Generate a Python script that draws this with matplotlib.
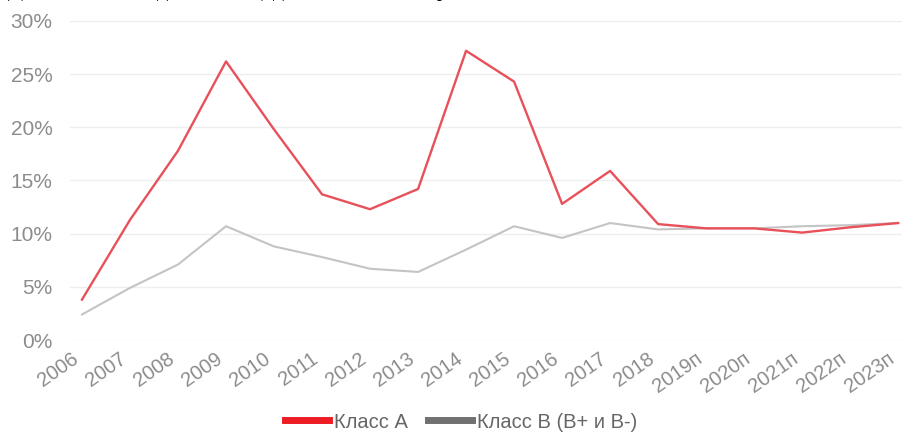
import matplotlib
matplotlib.use("Agg")
import matplotlib.pyplot as plt
import matplotlib.transforms as mtransforms
from matplotlib.ticker import FuncFormatter, MultipleLocator
from matplotlib.lines import Line2D

plt.rcParams['font.family'] = ['Liberation Sans', 'DejaVu Sans']

years = ["2006", "2007", "2008", "2009", "2010", "2011", "2012", "2013", "2014",
         "2015", "2016", "2017", "2018", "2019п", "2020п", "2021п", "2022п", "2023п"]
class_a = [3.8, 11.3, 17.8, 26.2, 19.8, 13.7, 12.3, 14.2, 27.2,
           24.3, 12.8, 15.9, 10.9, 10.5, 10.5, 10.1, 10.6, 11.0]
class_b = [2.4, 4.9, 7.1, 10.7, 8.8, 7.8, 6.7, 6.4, 8.5,
           10.7, 9.6, 11.0, 10.4, 10.5, 10.5, 10.7, 10.8, 11.0]
series_names = ["Класс А", "Класс В (В+ и В-)"]
title = "Данные о свободных площадях по классам офисов"

fig = plt.figure(figsize=(9.02, 4.36), dpi=100)
ax = fig.add_axes([70 / 902, 96 / 436, 832 / 902, 319 / 436])

x = list(range(len(years)))
ax.plot(x, [v / 100 for v in class_b], color="#c4c4c4", lw=1.5, zorder=3)
ax.plot(x, [v / 100 for v in class_a], color="#e8505a", lw=1.7, zorder=4)

ax.set_xlim(-0.25, len(years) - 1 + 0.08)
ax.set_ylim(0, 0.30)
ax.yaxis.set_major_locator(MultipleLocator(0.05))
ax.yaxis.set_major_formatter(FuncFormatter(lambda v, p: f"{v * 100:.0f}%"))
ax.grid(axis="y", color="#eeeeee", lw=1)
ax.set_axisbelow(True)
for s in ax.spines.values():
    s.set_visible(False)

ax.set_xticks(x)
ax.set_xticklabels(years, rotation=35, ha="right", va="center", rotation_mode="anchor",
                   color="#8c8c8c", fontsize=14.5)
ax.tick_params(axis="x", length=0, pad=12)
ax.tick_params(axis="y", length=0, pad=12.5, labelcolor="#8c8c8c", labelsize=15)

# nudge the slanted year labels a little to the left
shift = mtransforms.ScaledTranslation(-6 / 100, 0, fig.dpi_scale_trans)
for lbl in ax.get_xticklabels():
    lbl.set_transform(lbl.get_transform() + shift)

handles = [Line2D([0], [0], color="#ee1c25", lw=5),
           Line2D([0], [0], color="#707070", lw=5)]
fig.legend(handles, series_names, loc="center", bbox_to_anchor=(461 / 902, 1 - 422 / 436),
           ncol=2, frameon=False, fontsize=14.5, labelcolor="#666666",
           handlelength=2.2, handletextpad=0.25, columnspacing=1.0)

fig.text(0.009, 1 + 4 / 436, title, family="Liberation Serif", fontsize=16,
         color="black", va="baseline", ha="left")

fig.savefig("out.png", dpi=100, facecolor="white")
